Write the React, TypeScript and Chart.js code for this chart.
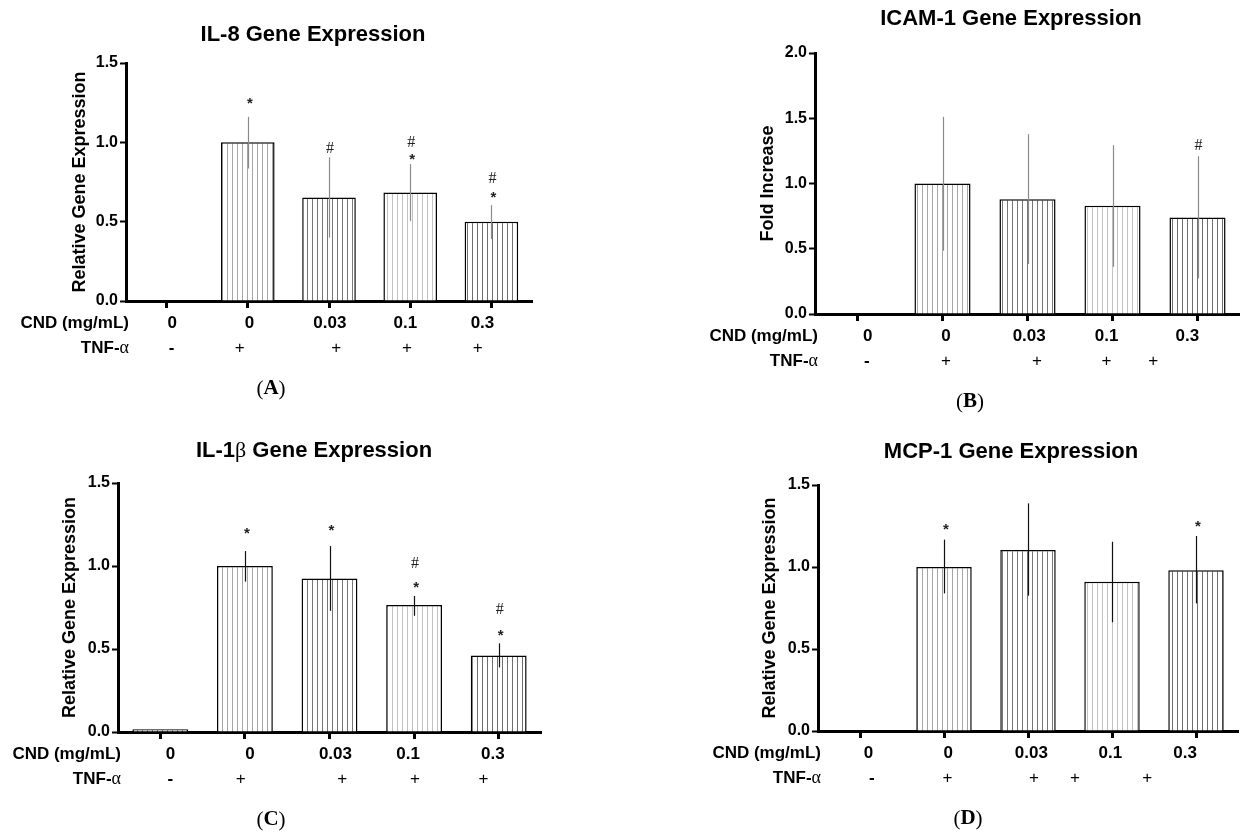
import React, { useEffect, useRef } from "react";
import { Chart, registerables } from "chart.js";
Chart.register(...registerables);

const SANS = '"Liberation Sans", Arial, Helvetica, sans-serif';
const SERIF = '"Liberation Serif", "Times New Roman", serif';

// ---------- shared categories ----------
const cndLabels = ["0", "0", "0.03", "0.1", "0.3"];
const tnfSigns = ["-", "+", "+", "+", "+"];
const stripeColors = ["#6a6a6a", "#a6a6a6", "#777777", "#c2c2c2", "#6f6f6f"];

// ---------- Panel A: IL-8 ----------
const il8Title = "IL-8 Gene Expression";
const il8Values = [0, 1.0, 0.652, 0.684, 0.499];
const il8ErrLow = [null, 0.835, 0.4, 0.505, 0.39];
const il8ErrHigh = [null, 1.16, 0.905, 0.863, 0.604];
const il8Stars = [null, 1.26, null, 0.91, 0.667];
const il8Hashes = [null, null, 0.957, 1.0, 0.77];

// ---------- Panel B: ICAM-1 ----------
const icamTitle = "ICAM-1 Gene Expression";
const icamValues = [0, 1.0, 0.88, 0.83, 0.74];
const icamErrLow = [null, 0.485, 0.383, 0.362, 0.273];
const icamErrHigh = [null, 1.51, 1.378, 1.293, 1.209];
const icamStars = [null, null, null, null, null];
const icamHashes = [null, null, null, null, 1.29];

// ---------- Panel C: IL-1β ----------
const il1bTitle = "IL-1β Gene Expression";
const il1bValues = [0.016, 1.0, 0.925, 0.765, 0.461];
const il1bErrLow = [null, 0.906, 0.73, 0.7, 0.389];
const il1bErrHigh = [null, 1.09, 1.12, 0.82, 0.534];
const il1bStars = [null, 1.21, 1.23, 0.886, 0.6];
const il1bHashes = [null, null, null, 1.012, 0.735];

// ---------- Panel D: MCP-1 ----------
const mcpTitle = "MCP-1 Gene Expression";
const mcpValues = [0, 1.0, 1.104, 0.91, 0.98];
const mcpErrLow = [null, 0.839, 0.825, 0.663, 0.778];
const mcpErrHigh = [null, 1.167, 1.388, 1.154, 1.189];
const mcpStars = [null, 1.246, null, null, 1.266];
const mcpHashes = [null, null, null, null, null];

// label placements along the category axis (in category units)
const cndAtA = [0.07, 1.02, 2.01, 2.94, 3.89];
const tnfAtA = [0.06, 0.9, 2.09, 2.96, 3.83];
const cndAtB = [0.12, 1.04, 2.02, 2.93, 3.88];
const tnfAtB = [0.11, 1.04, 2.11, 2.93, 3.48];
const cndAtC = [0.12, 1.06, 2.07, 2.93, 3.93];
const tnfAtC = [0.12, 0.95, 2.15, 3.01, 3.82];
const cndAtD = [0.1, 1.05, 2.04, 2.98, 3.87];
const tnfAtD = [0.14, 1.04, 2.07, 2.56, 3.42];

type Run = { t: string; f: string };

function toRuns(text: string, main: string, greek: string): Run[] {
  const runs: Run[] = [];
  for (const ch of text) {
    const isGreek = /[\u0370-\u03ff]/.test(ch);
    const f = isGreek ? greek : main;
    if (runs.length && runs[runs.length - 1].f === f) runs[runs.length - 1].t += ch;
    else runs.push({ t: ch, f });
  }
  return runs;
}

function drawRuns(ctx: CanvasRenderingContext2D, runs: Run[], x: number, y: number, align: "left" | "center" | "right") {
  ctx.save();
  ctx.textBaseline = "middle";
  ctx.textAlign = "left";
  let total = 0;
  const widths = runs.map((r) => {
    ctx.font = r.f;
    const w = ctx.measureText(r.t).width;
    total += w;
    return w;
  });
  let cx = align === "left" ? x : align === "center" ? x - total / 2 : x - total;
  runs.forEach((r, i) => {
    ctx.font = r.f;
    ctx.fillText(r.t, cx, y);
    cx += widths[i];
  });
  ctx.restore();
}

function makePattern(color: string) {
  const c = document.createElement("canvas");
  c.width = 5;
  c.height = 8;
  const g = c.getContext("2d")!;
  g.fillStyle = "#ffffff";
  g.fillRect(0, 0, 5, 8);
  g.fillStyle = color;
  g.fillRect(2, 0, 1, 8);
  return g.createPattern(c, "repeat")!;
}

type PanelCfg = {
  left: number; top: number; w: number; h: number;
  L: number; R: number; T: number; B: number;
  yMax: number; yTitle: string; yTitlePad: number;
  title: string; titleX: number; titleY: number;
  letter: string; letterX: number;
  values: number[]; errLow: (number | null)[]; errHigh: (number | null)[];
  stars: (number | null)[]; hashes: (number | null)[];
  errColor: string; cndAt: number[]; tnfAt: number[];
};

function makeDeco(p: PanelCfg) {
  return {
    id: "deco",
    afterDatasetsDraw(chart: any) {
      const ctx: CanvasRenderingContext2D = chart.ctx;
      const meta = chart.getDatasetMeta(0);
      const ys = chart.scales.y;
      ctx.save();
      ctx.strokeStyle = p.errColor;
      ctx.lineWidth = 1.2;
      p.errLow.forEach((lo, i) => {
        const hi = p.errHigh[i];
        if (lo == null || hi == null) return;
        const bx = Math.round(meta.data[i].x) + 0.5;
        ctx.beginPath();
        ctx.moveTo(bx, ys.getPixelForValue(lo));
        ctx.lineTo(bx, ys.getPixelForValue(hi));
        ctx.stroke();
      });
      ctx.fillStyle = "#222";
      ctx.textAlign = "center";
      ctx.textBaseline = "middle";
      p.stars.forEach((v, i) => {
        if (v == null) return;
        ctx.font = `bold 15px ${SANS}`;
        ctx.fillText("*", meta.data[i].x + 2, ys.getPixelForValue(v) + 3);
      });
      p.hashes.forEach((v, i) => {
        if (v == null) return;
        ctx.font = `16px ${SERIF}`;
        ctx.fillText("#", meta.data[i].x + 1, ys.getPixelForValue(v));
      });
      ctx.restore();
    },
    afterDraw(chart: any) {
      const ctx: CanvasRenderingContext2D = chart.ctx;
      const xs = chart.scales.x;
      const area = chart.chartArea;
      ctx.save();
      ctx.fillStyle = "#000";
      // title
      drawRuns(ctx, toRuns(p.title, `bold 22px ${SANS}`, `22px ${SERIF}`), p.titleX, p.titleY, "center");
      // CND row
      const cndY = area.bottom + 22;
      drawRuns(ctx, [{ t: "CND (mg/mL)", f: `bold 17px ${SANS}` }], area.left + 3, cndY, "right");
      cndLabels.forEach((lab, i) => {
        drawRuns(ctx, [{ t: lab, f: `bold 17px ${SANS}` }], xs.getPixelForValue(p.cndAt[i]), cndY, "center");
      });
      // TNF row
      const tnfY = area.bottom + 47;
      drawRuns(ctx, toRuns("TNF-α", `bold 17px ${SANS}`, `18px ${SERIF}`), area.left + 3, tnfY, "right");
      tnfSigns.forEach((s, i) => {
        const f = s === "-" ? `bold 17px ${SANS}` : `17px ${SANS}`;
        drawRuns(ctx, [{ t: s, f }], xs.getPixelForValue(p.tnfAt[i]), tnfY, "center");
      });
      // panel letter
      drawRuns(
        ctx,
        [
          { t: "(", f: `21px ${SERIF}` },
          { t: p.letter, f: `bold 21px ${SERIF}` },
          { t: ")", f: `21px ${SERIF}` },
        ],
        p.letterX,
        area.bottom + 88,
        "center"
      );
      ctx.restore();
    },
  };
}

function Panel({ p }: { p: PanelCfg }) {
  const ref = useRef<HTMLCanvasElement>(null);
  useEffect(() => {
    const canvas = ref.current!;
    const chart = new Chart(canvas, {
      type: "bar",
      data: {
        labels: cndLabels.map((c, i) => `${c}|${i}`),
        datasets: [
          {
            data: p.values,
            backgroundColor: stripeColors.map(makePattern),
            borderColor: "#000",
            borderWidth: 1.5,
            borderSkipped: "bottom",
            barPercentage: 0.66,
            categoryPercentage: 1,
          } as any,
        ],
      },
      options: {
        responsive: false,
        animation: false,
        devicePixelRatio: 1,
        events: [],
        layout: { padding: { left: 0, top: p.T, right: p.w - p.R, bottom: 0 } },
        plugins: {
          legend: { display: false },
          title: { display: false },
          tooltip: { enabled: false },
        },
        scales: {
          x: {
            type: "category",
            offset: true,
            grid: {
              offset: false,
              drawOnChartArea: false,
              drawTicks: true,
              tickLength: 7,
              tickWidth: 3,
              tickColor: "#000",
            },
            border: { display: true, color: "#000", width: 3 },
            ticks: { display: false },
            afterFit: (s: any) => {
              s.height = p.h - p.B;
            },
          },
          y: {
            min: 0,
            max: p.yMax,
            grid: {
              drawOnChartArea: false,
              drawTicks: true,
              tickLength: 6,
              tickWidth: 2,
              tickColor: "#000",
            },
            border: { display: true, color: "#000", width: 3 },
            ticks: {
              stepSize: 0.5,
              color: "#000",
              padding: 2,
              font: { family: SANS, size: 16, weight: "bold" },
              callback: (v: any) => Number(v).toFixed(1),
            },
            title: {
              display: true,
              text: p.yTitle,
              color: "#000",
              font: { family: SANS, size: 18, weight: "bold" },
              padding: { top: p.yTitlePad, bottom: 0 },
            },
            afterFit: (s: any) => {
              s.width = p.L;
            },
          },
        },
      } as any,
      plugins: [makeDeco(p)],
    });
    return () => chart.destroy();
  }, []);
  return (
    <canvas
      ref={ref}
      width={p.w}
      height={p.h}
      style={{ position: "absolute", left: p.left, top: p.top, width: p.w, height: p.h, display: "block" }}
    />
  );
}

const panels: PanelCfg[] = [
  {
    left: 0, top: 0, w: 620, h: 420, L: 126, R: 532, T: 63, B: 301,
    yMax: 1.5, yTitle: "Relative Gene Expression", yTitlePad: 69,
    title: il8Title, titleX: 313, titleY: 35, letter: "A", letterX: 271,
    values: il8Values, errLow: il8ErrLow, errHigh: il8ErrHigh, stars: il8Stars, hashes: il8Hashes,
    errColor: "#8a8a8a", cndAt: cndAtA, tnfAt: tnfAtA,
  },
  {
    left: 620, top: 0, w: 620, h: 420, L: 195, R: 620, T: 53, B: 314,
    yMax: 2.0, yTitle: "Fold Increase", yTitlePad: 137,
    title: icamTitle, titleX: 391, titleY: 19, letter: "B", letterX: 350,
    values: icamValues, errLow: icamErrLow, errHigh: icamErrHigh, stars: icamStars, hashes: icamHashes,
    errColor: "#8a8a8a", cndAt: cndAtB, tnfAt: tnfAtB,
  },
  {
    left: 0, top: 420, w: 620, h: 418, L: 118, R: 541, T: 63, B: 312,
    yMax: 1.5, yTitle: "Relative Gene Expression", yTitlePad: 59,
    title: il1bTitle, titleX: 314, titleY: 31, letter: "C", letterX: 271,
    values: il1bValues, errLow: il1bErrLow, errHigh: il1bErrHigh, stars: il1bStars, hashes: il1bHashes,
    errColor: "#111", cndAt: cndAtC, tnfAt: tnfAtC,
  },
  {
    left: 620, top: 420, w: 620, h: 418, L: 198, R: 618, T: 65, B: 311,
    yMax: 1.5, yTitle: "Relative Gene Expression", yTitlePad: 139,
    title: mcpTitle, titleX: 391, titleY: 32, letter: "D", letterX: 348,
    values: mcpValues, errLow: mcpErrLow, errHigh: mcpErrHigh, stars: mcpStars, hashes: mcpHashes,
    errColor: "#111", cndAt: cndAtD, tnfAt: tnfAtD,
  },
];

export default function App() {
  return (
    <div style={{ position: "absolute", left: 0, top: 0, width: 1240, height: 838, background: "#fff", overflow: "hidden" }}>
      {panels.map((p, i) => (
        <Panel key={i} p={p} />
      ))}
    </div>
  );
}
